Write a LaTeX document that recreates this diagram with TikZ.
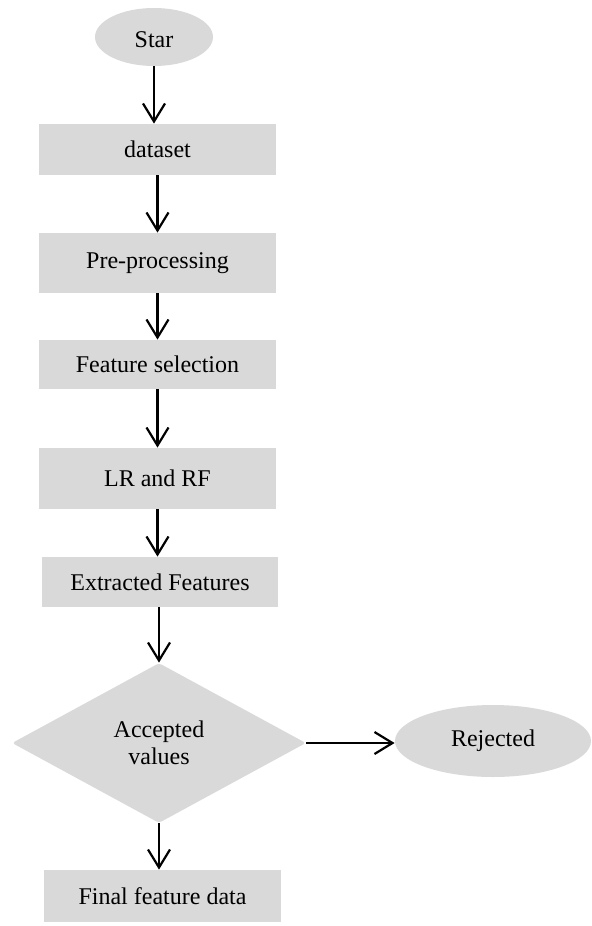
\documentclass[tikz,border=0pt]{standalone}
\usepackage{fontspec}
\setmainfont{Liberation Serif}
\usetikzlibrary{shapes.geometric,arrows.meta}
\definecolor{boxgray}{HTML}{D9D9D9}
\tikzset{
  procbox/.style={rectangle, fill=boxgray, inner sep=0pt, font=\fontsize{12}{14}\selectfont},
  termnode/.style={ellipse, fill=boxgray, inner sep=0pt, font=\fontsize{12}{14}\selectfont},
  decnode/.style={diamond, fill=boxgray, inner sep=0pt, rounded corners=1.5pt, align=center, font=\fontsize{12}{13.5}\selectfont},
  arr/.style={line width=1.1pt, -{Straight Barb[length=9pt,width=11pt,line width=1.1pt]}}
}
\begin{document}
\begin{tikzpicture}
\useasboundingbox (0,0) rectangle (296pt,-463pt);
\node[termnode, minimum width=59pt, minimum height=29pt, text height=11pt] (start) at (77pt,-18.5pt) {Star};
\node[procbox, minimum width=118.5pt, minimum height=25.5pt] (data) at (78.75pt,-74.75pt) {dataset};
\node[procbox, minimum width=118.5pt, minimum height=30pt] (pre) at (78.75pt,-131.5pt) {Pre-processing};
\node[procbox, minimum width=118.5pt, minimum height=24.5pt] (fs) at (78.75pt,-182.25pt) {Feature selection};
\node[procbox, minimum width=118.5pt, minimum height=30.5pt] (lr) at (78.75pt,-239.25pt) {LR and RF};
\node[procbox, minimum width=118pt, minimum height=25pt] (ef) at (80pt,-291pt) {Extracted Features};
\node[decnode, minimum width=147pt, minimum height=80pt] (dec) at (79.5pt,-371.5pt) {Accepted\\values};
\node[procbox, minimum width=118.5pt, minimum height=26pt] (fin) at (81.25pt,-448pt) {Final feature data};
\node[termnode, minimum width=98pt, minimum height=36pt] (rej) at (246.5pt,-370.5pt) {Rejected};

\draw[arr] (start.south) -- (start.south |- data.north);
\draw[arr] (data.south) -- (data.south |- pre.north);
\draw[arr] (pre.south) -- (pre.south |- fs.north);
\draw[arr] (fs.south) -- (fs.south |- lr.north);
\draw[arr] (lr.south) -- (lr.south |- ef.north);
\draw[arr] (ef.south -| dec.north) -- (dec.north);
\draw[arr] (dec.south) -- (dec.south |- fin.north);
\draw[arr] (dec.east) -- (dec.east -| rej.west);
\end{tikzpicture}
\end{document}
